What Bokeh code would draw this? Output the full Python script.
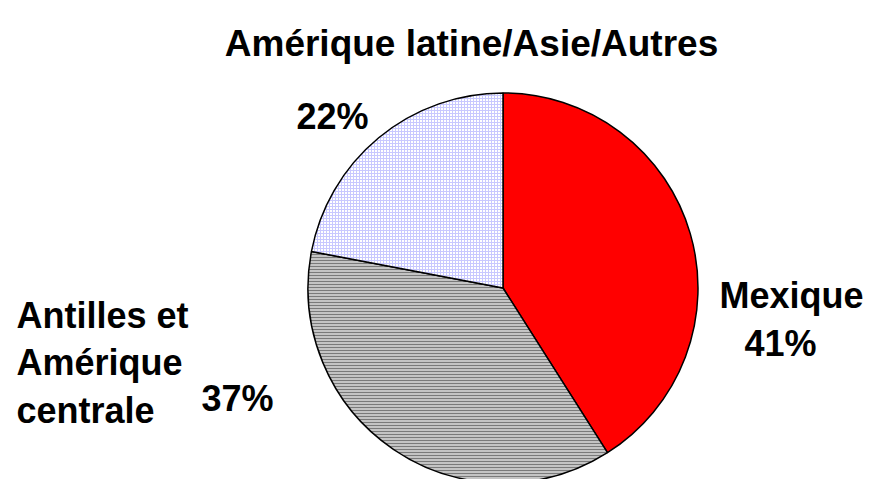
import math
from bokeh.plotting import figure
from bokeh.models import Range1d
from bokeh.core.properties import value
from bokeh.embed import file_html
from bokeh.resources import INLINE

# ---- data ----
title_text = "Amérique latine/Asie/Autres"
categories = ["Mexique", "Antilles et Amérique centrale", "Amérique latine/Asie/Autres"]
shares = [41, 37, 22]
pct_labels = ["41%", "37%", "22%"]

# ---- styles ----
fills = ["#ff0000", "#c4c4c4", "#ffffff"]
hatches = [" ", "-", "+"]
hatch_colors = ["#ff0000", "#7a7a7a", "#c8c8ff"]

W, H = 871, 479
PAGE_H = 479  # y measured upward from the bottom of the picture

p = figure(width=W, height=H, output_backend="svg", toolbar_location=None,
           x_range=Range1d(0, W), y_range=Range1d(PAGE_H - H, PAGE_H),
           min_border=0)
p.axis.visible = False
p.grid.visible = False
p.outline_line_color = None
p.background_fill_color = "white"
p.border_fill_color = "white"

# pie geometry (clockwise from 12 o'clock)
cx, cy, r = 502.5, PAGE_H - 287.5, 195
total = sum(shares)
starts, ends = [], []
acc = 0.0
for v in shares:
    a0 = math.pi / 2 - 2 * math.pi * acc / total
    acc += v
    a1 = math.pi / 2 - 2 * math.pi * acc / total
    starts.append(a0)
    ends.append(a1)

for i in range(len(shares)):
    p.wedge(x=cx, y=cy, radius=r, start_angle=starts[i], end_angle=ends[i],
            direction="clock", fill_color=fills[i], line_color="black", line_width=1.5,
            hatch_pattern=hatches[i], hatch_color=hatch_colors[i], hatch_scale=3,
            hatch_weight=1)

font = value("Liberation Sans")

# title
p.text(x=[471], y=[PAGE_H - 43], text=[title_text], text_font=font, text_font_size="37px",
       text_font_style="bold", text_align="center", text_baseline="alphabetic", text_color="black")

# category labels
name_lines = ["Mexique", "Antilles et", "Amérique", "centrale"]
name_x = [719, 16, 16, 16]
name_y = [295, 315, 362, 410]
p.text(x=name_x, y=[PAGE_H - v for v in name_y], text=name_lines, text_font=font,
       text_font_size="36px", text_font_style="bold", text_align="left",
       text_baseline="alphabetic", text_color="black")

# percentage labels
pct_x = [744, 201, 296]
pct_y = [343, 398, 116]
p.text(x=pct_x, y=[PAGE_H - v for v in pct_y], text=pct_labels, text_font=font,
       text_font_size="36px", text_font_style="bold", text_align="left",
       text_baseline="alphabetic", text_color="black")

open("out.html", "w").write(file_html(p, INLINE))
